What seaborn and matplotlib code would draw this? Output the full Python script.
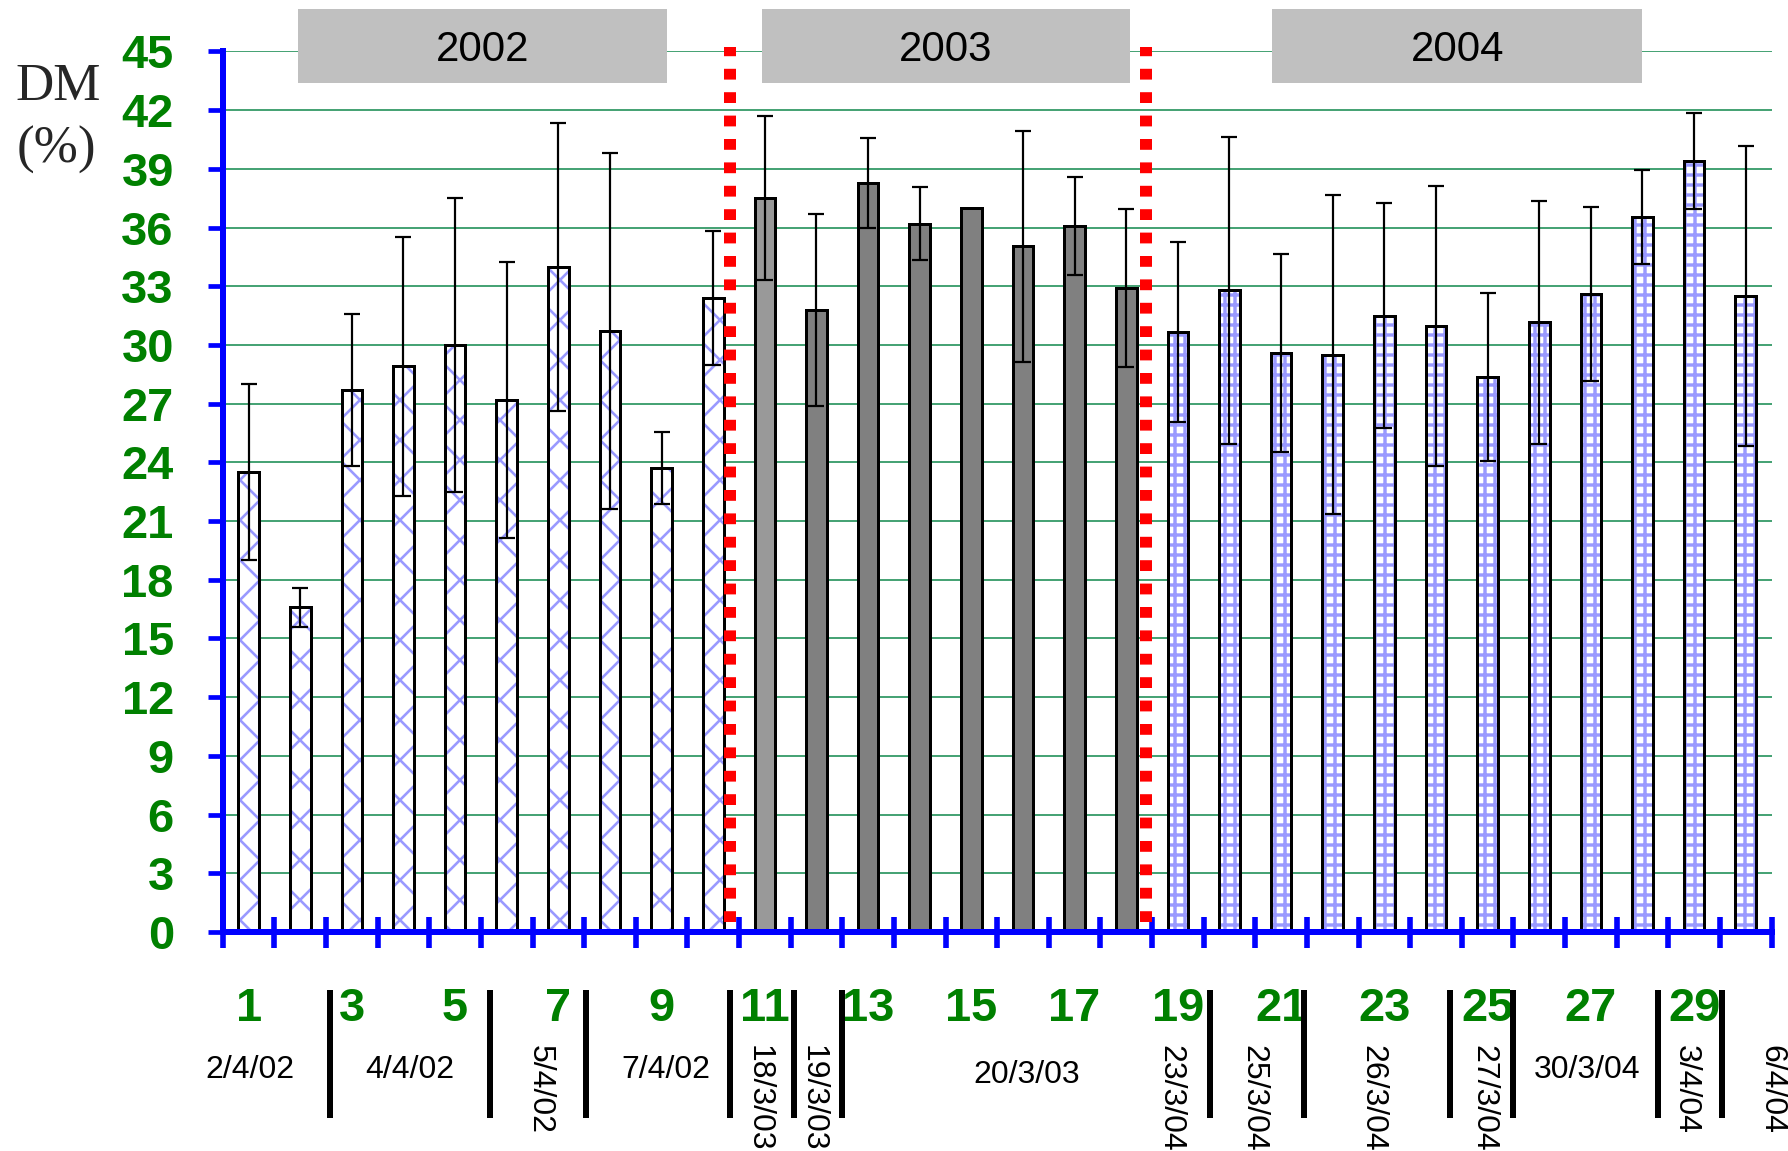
import matplotlib
matplotlib.use("Agg")
import matplotlib.pyplot as plt
import matplotlib.transforms as mtransforms
from matplotlib.patches import Rectangle
import seaborn as sns
import pandas as pd
import numpy as np

# data
bar_no = list(range(1, 31))
year = ['2002'] * 10 + ['2003'] * 8 + ['2004'] * 12
dm_mean = [23.5, 16.6, 27.7, 28.9, 30.0, 27.2, 34.0, 30.7, 23.7, 32.4,
           37.5, 31.8, 38.3, 36.2, 37.0, 35.05, 36.1, 32.9,
           30.65, 32.8, 29.6, 29.5, 31.5, 30.95, 28.35, 31.15, 32.6, 36.55, 39.4, 32.5]
dm_err = [4.5, 1.0, 3.9, 6.6, 7.5, 7.05, 7.35, 9.1, 1.85, 3.4,
          4.2, 4.9, 2.3, 1.85, 0.0, 5.9, 2.5, 4.05,
          4.6, 7.85, 5.05, 8.15, 5.75, 7.15, 4.3, 6.2, 4.45, 2.4, 2.45, 7.65]
x_labels = [str(i) for i in range(1, 31, 2)]
y_ticks = list(range(0, 46, 3))

date_text = ['2/4/02', '4/4/02', '5/4/02', '7/4/02', '18/3/03', '19/3/03', '20/3/03',
             '23/3/04', '25/3/04', '26/3/04', '27/3/04', '30/3/04', '3/4/04', '6/4/04']
date_vert = [False, False, True, False, True, True, False,
             True, True, True, True, False, True, True]
# layout of the date annotations (data x)
date_x = [1.03, 4.13, 6.64, 9.09, 10.87, 11.93, 16.07,
          18.85, 20.47, 22.76, 24.91, 26.92, 28.83, 30.5]
sep_x = [2.58, 5.68, 7.54, 10.33, 11.56, 12.49, 19.62, 21.45, 24.27, 25.49, 28.3, 29.54]
year_boxes = [('2002', 1.95, 9.10), ('2003', 10.94, 18.08), ('2004', 20.83, 27.99)]
red_x = [10.33, 18.38]

DPI = 120


def pt(px):
    # pixel size -> points at the output dpi
    return px * 72.0 / DPI


sns.set_style('white')
plt.rcParams['font.family'] = ['Liberation Sans', 'DejaVu Sans']
plt.rcParams['hatch.linewidth'] = pt(2.6)

df = pd.DataFrame({'bar': bar_no, 'dm': dm_mean, 'year': year})

fig = plt.figure(figsize=(1788 / DPI, 1151 / DPI), dpi=DPI)
ax = fig.add_axes([0.1246, 0.1903, 0.8662, 0.765])

pal = {'2002': 'white', '2003': '#808080', '2004': 'white'}
sns.barplot(data=df, x='bar', y='dm', hue='year', palette=pal, native_scale=True,
            width=0.4, errorbar=None, legend=False, dodge=False, saturation=1,
            linewidth=0, ax=ax)
for p in ax.patches:
    i = int(round(p.get_x() + p.get_width() / 2))
    yr = year[i - 1]
    if yr == '2002':
        p.set_hatch('x')
        p.set_edgecolor('#9999ff')
        p.set_linewidth(0)
    elif yr == '2004':
        p.set_hatch('++')
        p.set_edgecolor('#9999ff')
        p.set_linewidth(0)
        if hasattr(p, 'set_hatch_linewidth'):
            p.set_hatch_linewidth(pt(3.4))
    elif i == 11:
        p.set_facecolor('#999999')

# black outlines
sns.barplot(data=df, x='bar', y='dm', native_scale=True, width=0.4, errorbar=None,
            fill=False, color='black', linewidth=pt(3), ax=ax)

err = np.array(dm_err)
m = err > 0
ax.errorbar(np.array(bar_no)[m], np.array(dm_mean)[m], yerr=err[m], fmt='none',
            ecolor='black', elinewidth=pt(2.2), capsize=pt(8.3), capthick=pt(2.2), zorder=4)

ax.set_xlim(0.5, 30.5)
ax.set_ylim(0, 45)
ax.set_xlabel('')
ax.set_ylabel('')

ax.set_yticks(y_ticks)
ax.set_yticklabels([str(v) for v in y_ticks], fontweight='bold')
ax.tick_params(axis='y', left=True, direction='out', length=pt(15), width=pt(4.7),
               color='#0000ff', labelcolor='#008000', labelsize=pt(47), pad=pt(34))

ax.set_xticks(list(range(1, 31, 2)))
ax.set_xticklabels(x_labels, fontweight='bold')
ax.set_xticks(np.arange(0.5, 31, 1), minor=True)
ax.tick_params(axis='x', which='major', bottom=True, length=0, labelcolor='#008000',
               labelsize=pt(47), pad=pt(55))
ax.tick_params(axis='x', which='minor', bottom=True, direction='inout', length=pt(31),
               width=pt(5.6), color='#0000ff')

ax.yaxis.grid(True, color='#339966', linewidth=pt(1.8))
ax.xaxis.grid(False)
ax.set_axisbelow(True)

for s in ['top', 'right']:
    ax.spines[s].set_visible(False)
for s in ['left', 'bottom']:
    ax.spines[s].set_color('#0000ff')
    ax.spines[s].set_linewidth(pt(6))

trans = mtransforms.blended_transform_factory(ax.transData, ax.transAxes)

for xr in red_x:
    ax.plot([xr, xr], [0.011, 1.005], transform=trans, color='#ff0000', lw=pt(12),
            linestyle=(0, (0.9, 1.05)), solid_capstyle='butt', dash_capstyle='butt',
            clip_on=False, zorder=6)

for name, x0, x1 in year_boxes:
    ax.add_patch(Rectangle((x0, 0.964), x1 - x0, 0.084, transform=trans,
                           facecolor='#c0c0c0', edgecolor='none', clip_on=False, zorder=7))
    ax.text((x0 + x1) / 2, 1.0015, name, transform=trans, ha='center', va='center',
            fontsize=pt(42), color='black', zorder=8, clip_on=False)

for xs in sep_x:
    ax.plot([xs, xs], [-0.066, -0.211], transform=trans, color='black', lw=pt(6),
            solid_capstyle='butt', clip_on=False)

for t, xd, v in zip(date_text, date_x, date_vert):
    if v:
        ax.text(xd, -0.128, t, transform=trans, rotation=270, ha='center', va='top',
                fontsize=pt(32), color='black', clip_on=False)
    else:
        yy = -0.162 if t == '20/3/03' else -0.157
        ax.text(xd, yy, t, transform=trans, ha='center', va='center',
                fontsize=pt(32), color='black', clip_on=False)

fig.text(58 / 1788, 1 - 87 / 1151, 'DM', family=['Liberation Serif', 'DejaVu Serif'],
         fontsize=pt(53), ha='center', va='center')
fig.text(56 / 1788, 1 - 150 / 1151, '(%)', family=['Liberation Serif', 'DejaVu Serif'],
         fontsize=pt(53), ha='center', va='center')

fig.savefig('out.png', dpi=DPI)
